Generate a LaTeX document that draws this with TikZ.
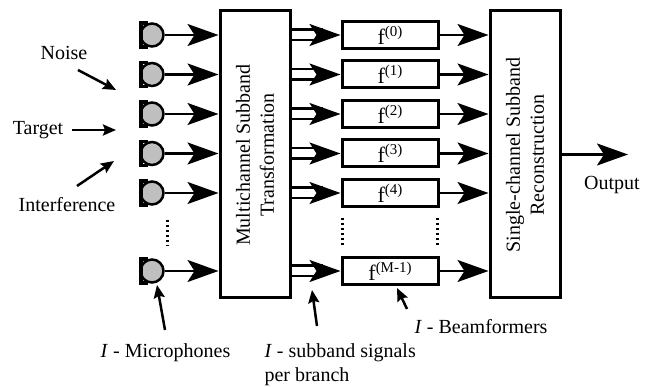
\documentclass[tikz,border=0pt]{standalone}
\usepackage{fontspec}
\setmainfont{Liberation Serif}
\usetikzlibrary{arrows.meta}
\newcommand{\flab}[1]{{\fontsize{22}{24}\selectfont f}\raisebox{8pt}{\fontsize{15}{15}\selectfont #1}}
\begin{document}
\begin{tikzpicture}[x=1pt,y=-1pt,
  every node/.style={font=\fontsize{20}{24}\selectfont},
  bigbox/.style={draw,line width=3pt,minimum width=70pt,minimum height=287pt,inner sep=0pt},
  fbox/.style={draw,line width=3pt,minimum width=96pt,minimum height=27pt,inner sep=0pt},
  mic/.style={circle,draw,line width=2.5pt,fill=black!25,minimum size=23pt,inner sep=0pt},
  bigarrow/.style={line width=2.5pt,-{Stealth[length=31pt,width=22pt,inset=7pt]}},
  dblline/.style={line width=2.5pt,double distance=8pt},
  smallarrow/.style={line width=2.5pt,-{Stealth[length=13pt,width=11pt,inset=2pt]}},
  vdots/.style={line width=3pt,dash pattern=on 2.5pt off 2.5pt}]
\useasboundingbox (0,0) rectangle (654,387);

% big boxes
\node[bigbox] (mct) at (255,154.5) {};
\node[rotate=90,align=center] (mcttext) at (255,155) {Multichannel Subband\\Transformation};
\node[bigbox] (rec) at (525,154.5) {};
\node[rotate=90,align=center] (rectext) at (525,155) {Single-channel Subband\\Reconstruction};

% microphones, beamformers
\foreach \i/\y/\lab in {1/35/(0),2/74.5/(1),3/114/(2),4/153.5/(3),5/193/(4),6/271/(M-1)}{
  \node[mic] (m\i) at (152,\y) {};
  \draw[line width=3.5pt] ([shift={(-4,-12)}]m\i.center) -- ++(-7,0) -- ++(0,24) -- ++(7,0);
  \draw[bigarrow] (m\i.east) -- (m\i.east -| mct.west);
  \node[fbox] (f\i) at (390,\y) {\flab{\lab}};
  \draw[dblline] (mct.east |- f\i) -- ([xshift=-18pt]f\i.west);
  \draw[bigarrow] ([xshift=-22pt]f\i.west) -- (f\i.west);
  \draw[bigarrow] (f\i.east) -- (f\i.east -| rec.west);
}

% dots
\coordinate (d1a) at (167,220); \coordinate (d1b) at (167,246);
\draw[vdots] (d1a) -- (d1b);
\coordinate (d2a) at (342,218); \coordinate (d2b) at (342,246);
\draw[vdots] (d2a) -- (d2b);
\coordinate (d3a) at (437,218); \coordinate (d3b) at (437,246);
\draw[vdots] (d3a) -- (d3b);

% output
\coordinate (out) at (628,154.5);
\draw[bigarrow] (rec.east) -- (out);
\node (outtext) at (612,185) {Output};

% sources
\node (noise) at (64,53) {Noise};
\coordinate (n1) at (78,70); \coordinate (n2) at (116,90);
\draw[smallarrow] (n1) -- (n2);
\node (target) at (38,130) {Target};
\coordinate (t1) at (72,130); \coordinate (t2) at (116,130);
\draw[smallarrow] (t1) -- (t2);
\node (interf) at (67,205) {Interference};
\coordinate (i1) at (77,186); \coordinate (i2) at (114,161);
\draw[smallarrow] (i1) -- (i2);

% bottom labels
\node (miclab) at (165.5,353) {\textit{I} - Microphones};
\coordinate (ma) at (165,330); \coordinate (mb) at (157,285);
\draw[smallarrow] (ma) -- (mb);
\node[anchor=west,align=left] (sublab) at (261,365) {\textit{I} - subband signals\\per branch};
\coordinate (sa) at (317,326); \coordinate (sb) at (312,290);
\draw[smallarrow] (sa) -- (sb);
\node[anchor=west] (bflab) at (411,327) {\textit{I} - Beamformers};
\coordinate (ba) at (407,309); \coordinate (bb) at (397,288);
\draw[smallarrow] (ba) -- (bb);
\end{tikzpicture}
\end{document}
